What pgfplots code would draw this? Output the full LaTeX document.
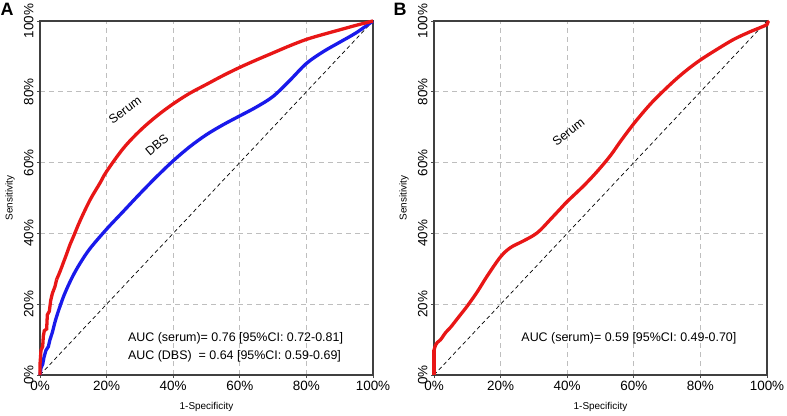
\documentclass[border=0pt]{standalone}
\usepackage{pgfplots}
\pgfplotsset{compat=1.18}
\usepackage{fontspec}
\setmainfont{Liberation Sans}
\definecolor{cred}{RGB}{232,22,22}
\definecolor{cblue}{RGB}{25,25,235}
\definecolor{cgrid}{RGB}{190,190,190}
\pgfplotsset{
  rocax/.style={
    scale only axis, width=333bp, height=354bp,
    xmin=0, xmax=1, ymin=0, ymax=1,
    xtick={0,0.2,0.4,0.6,0.8,1}, ytick={0,0.2,0.4,0.6,0.8,1},
    xticklabels={0\%,20\%,40\%,60\%,80\%,100\%},
    yticklabels={0\%,20\%,40\%,60\%,80\%,100\%},
    tick label style={font=\fontsize{13.5}{14}\selectfont},
    yticklabel style={rotate=90, anchor=south, yshift=0bp},
    /pgf/number format/assume math mode=true,
    tick align=outside, major tick length=3bp, tick style={black!70, line width=0.8bp},
    axis line style={black!75, line width=1.1bp},
    xtick pos=bottom, ytick pos=left,
    grid=major, major grid style={cgrid, dashed, line width=0.8bp, dash pattern=on 5bp off 4bp},
    xlabel={1-Specificity}, ylabel={Sensitivity},
    label style={font=\fontsize{10}{11}\selectfont},
    every axis x label/.style={at={(axis description cs:0.5,-0.09)}, anchor=center},
    every axis y label/.style={at={(axis description cs:-0.09,0.5)}, rotate=90, anchor=center},
    clip=false,
  }
}
\begin{document}
\begin{tikzpicture}
\useasboundingbox (-40bp,-41bp) rectangle (747bp,375bp);
\begin{axis}[rocax, at={(0,0)}, anchor=south west]
\addplot[black, dashed, line width=0.7bp, dash pattern=on 4bp off 3bp] coordinates {(0,0) (1,1)};
\addplot[cblue, line width=3.3bp] coordinates {
(0,0) (0.003,0.02) (0.008,0.03) (0.012,0.05) (0.018,0.07) (0.025,0.08) (0.03,0.10) (0.037,0.12) (0.045,0.15)};
\addplot[cblue, line width=3.3bp, smooth, tension=0.55] coordinates {
(0.045,0.15) (0.055,0.18) (0.07,0.22) (0.085,0.253) (0.10,0.282) (0.12,0.315) (0.15,0.357) (0.20,0.412) (0.25,0.462) (0.30,0.512) (0.35,0.56) (0.40,0.605) (0.45,0.645) (0.50,0.679) (0.55,0.707) (0.60,0.732) (0.65,0.757) (0.70,0.787) (0.75,0.832) (0.80,0.88) (0.85,0.913) (0.90,0.94) (0.95,0.967) (1,1)};
\addplot[cred, line width=3.3bp] coordinates {
(0,0) (0,0.03) (0.003,0.07) (0.008,0.08) (0.01,0.11) (0.013,0.125) (0.02,0.13) (0.022,0.17) (0.028,0.18) (0.032,0.21) (0.037,0.23) (0.045,0.25) (0.05,0.27)};
\addplot[cred, line width=3.3bp, smooth, tension=0.55] coordinates {
(0.05,0.27) (0.06,0.292) (0.07,0.317) (0.08,0.342) (0.09,0.368) (0.10,0.39) (0.12,0.435) (0.15,0.494) (0.18,0.542) (0.20,0.575) (0.25,0.64) (0.30,0.69) (0.35,0.731) (0.40,0.766) (0.45,0.796) (0.50,0.821) (0.55,0.846) (0.60,0.869) (0.65,0.89) (0.70,0.91) (0.75,0.93) (0.80,0.948) (0.85,0.962) (0.90,0.975) (0.95,0.988) (1,1)};
\node[rotate=36, font=\fontsize{12.5}{13}\selectfont] at (axis cs:0.255,0.749) {Serum};
\node[rotate=40, font=\fontsize{12.5}{13}\selectfont] at (axis cs:0.351,0.65) {DBS};
\node[anchor=west, font=\fontsize{12.5}{13}\selectfont, inner sep=0pt] at (axis cs:0.264,0.105) {AUC (serum)= 0.76 [95\%CI: 0.72-0.81]};
\node[anchor=west, font=\fontsize{12.5}{13}\selectfont, inner sep=0pt] at (axis cs:0.264,0.052) {AUC (DBS)\ \ = 0.64 [95\%CI: 0.59-0.69]};
\node[font=\fontsize{18}{19}\selectfont\bfseries] at (axis description cs:-0.099,1.034) {A};
\end{axis}
\begin{axis}[rocax, at={(394bp,0)}, anchor=south west]
\addplot[black, dashed, line width=0.7bp, dash pattern=on 4bp off 3bp] coordinates {(0,0) (1,1)};
\addplot[cred, line width=3.3bp] coordinates {(0,0) (0,0.07)};
\addplot[cred, line width=3.3bp, smooth, tension=0.55] coordinates {
(0,0.07) (0.005,0.085) (0.01,0.092) (0.02,0.10) (0.035,0.12) (0.05,0.135) (0.075,0.165) (0.10,0.195) (0.13,0.235) (0.16,0.28) (0.20,0.334) (0.23,0.36) (0.267,0.378) (0.30,0.395) (0.32,0.41) (0.35,0.44) (0.38,0.47) (0.40,0.49) (0.45,0.535) (0.49,0.575) (0.53,0.62) (0.56,0.66) (0.60,0.71) (0.64,0.755) (0.67,0.785) (0.72,0.83) (0.76,0.862) (0.80,0.89) (0.85,0.92) (0.90,0.948) (0.95,0.97) (1,0.99) (1,1)};
\node[rotate=38, font=\fontsize{12.5}{13}\selectfont] at (axis cs:0.404,0.686) {Serum};
\node[anchor=west, font=\fontsize{12.5}{13}\selectfont, inner sep=0pt] at (axis cs:0.262,0.105) {AUC (serum)= 0.59 [95\%CI: 0.49-0.70]};
\node[font=\fontsize{18}{19}\selectfont\bfseries] at (axis description cs:-0.102,1.034) {B};
\end{axis}
\end{tikzpicture}
\end{document}
